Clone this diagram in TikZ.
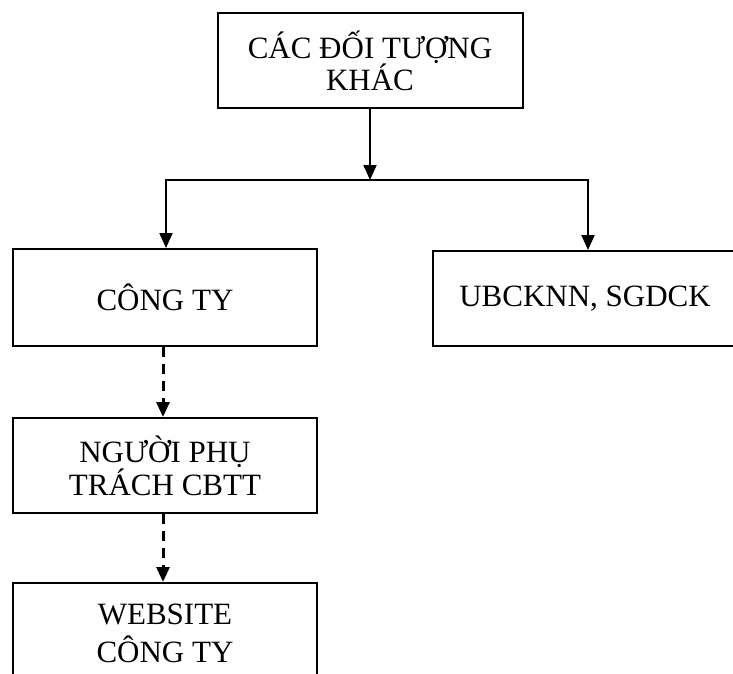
\documentclass[tikz,border=0pt]{standalone}
\usepackage{fontspec}
\setmainfont{Liberation Serif}
\usetikzlibrary{arrows.meta}
\begin{document}
\begin{tikzpicture}[x=1pt,y=-1pt,
  box/.style={draw,line width=2pt,minimum width=304pt,inner sep=0pt,align=center,font=\fontsize{31}{32}\selectfont},
  arr/.style={line width=2pt,-{Triangle[width=13pt,length=15pt]}},
  darr/.style={line width=3pt,dash pattern=on 10pt off 7pt,-{Triangle[width=13pt,length=15pt]}}]
\useasboundingbox (0,0) rectangle (733,674);
\clip (0,0) rectangle (733,674);
\node[box,minimum width=305pt,minimum height=95pt] (top) at (370,60.5) {CÁC ĐỐI TƯỢNG\\KHÁC};
\node[box,minimum height=97pt] (cty) at (165,297.5) {CÔNG TY};
\node[box,minimum height=95pt] (ub) at (585,298.5) {UBCKNN, SGDCK};
\node[box,minimum height=95pt,font=\fontsize{31}{30}\selectfont] (ng) at (165,465.5) {NGƯỜI PHỤ\\TRÁCH CBTT};
\node[box,minimum height=100pt,font=\fontsize{31}{38}\selectfont] (web) at (165,633) {WEBSITE\\CÔNG TY};
\coordinate (jm) at (370,180);
\draw[arr] (top.south) -- (jm);
\draw[arr] (jm) -| ([xshift=1pt]cty.north);
\draw[arr] (jm) -| ([xshift=3pt]ub.north);
\draw[darr] ([xshift=-2pt]cty.south) -- ([xshift=-2pt]ng.north);
\draw[darr] ([xshift=-2pt]ng.south) -- ([xshift=-2pt]web.north);
\end{tikzpicture}
\end{document}
